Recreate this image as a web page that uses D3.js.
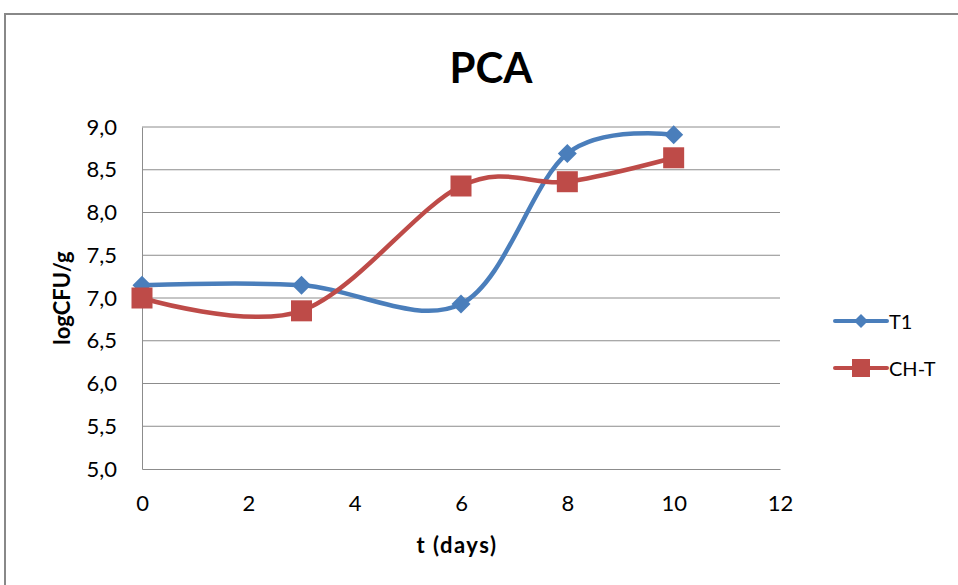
<!DOCTYPE html>
<html><head><meta charset="utf-8">
<script src="https://cdn.jsdelivr.net/npm/d3@7"></script>
<style>body{margin:0;background:#fff;} svg{display:block;}</style>
</head><body>
<svg id="c" width="958" height="585"></svg>
<script>
const days = [0, 3, 6, 8, 10];
const t1Values = [7.15, 7.15, 6.93, 8.69, 8.91];
const chtValues = [7.0, 6.85, 8.31, 8.36, 8.64];
const seriesNames = ["T1", "CH-T"];
const xTicks = [0, 2, 4, 6, 8, 10, 12];
const yTicks = [5.0, 5.5, 6.0, 6.5, 7.0, 7.5, 8.0, 8.5, 9.0];
const colors = ["#4a7ebb", "#be4b48"];

const svg = d3.select("#c");
const font = "Lato, 'Open Sans', sans-serif";
svg.append("rect").attr("x",5).attr("y",14).attr("width",1000).attr("height",700)
  .attr("fill","#fff").attr("stroke","#888").attr("stroke-width",2);

const x = d3.scaleLinear().domain([0,12]).range([142,780]);
const y = d3.scaleLinear().domain([5,9]).range([469,127]);

// grid
svg.append("g").selectAll("line").data(yTicks.slice(1)).join("line")
  .attr("x1",142).attr("x2",780).attr("y1",d=>y(d)).attr("y2",d=>y(d))
  .attr("stroke","#8c8c8c").attr("stroke-width",1);

// axes
const yAxis = d3.axisLeft(y).tickValues(yTicks).tickSize(0).tickPadding(25)
  .tickFormat(d=>d3.format(".1f")(d).replace(".",","));
const gy = svg.append("g").attr("transform","translate(142,0)").call(yAxis);
gy.select(".domain").attr("stroke","#8c8c8c");
gy.selectAll("text").attr("font-family",font).attr("font-size",22).attr("fill","#000");

const xAxis = d3.axisBottom(x).tickValues(xTicks).tickSize(0).tickPadding(26);
const gx = svg.append("g").attr("transform","translate(0,469)").call(xAxis);
gx.select(".domain").attr("stroke","#8c8c8c");
gx.selectAll("text").attr("font-family",font).attr("font-size",22).attr("fill","#000");

// title and labels
svg.append("text").attr("x",491).attr("y",83).attr("text-anchor","middle")
  .attr("font-family",font).attr("font-weight","bold").attr("font-size",42).text("PCA");
svg.append("text").attr("x",457).attr("y",553).attr("text-anchor","middle")
  .attr("font-family",font).attr("font-weight","bold").attr("font-size",22)
  .attr("letter-spacing",1.5).text("t (days)");
svg.append("text").attr("transform","translate(70,298) rotate(-90)").attr("text-anchor","middle")
  .attr("font-family",font).attr("font-weight","bold").attr("font-size",22).text("logCFU/g");

const line = d3.line().x(d=>x(d[0])).y(d=>y(d[1])).curve(d3.curveCatmullRom.alpha(0));
const series = [t1Values, chtValues];

function marker(g, i, cx, cy){
  if(i===0){
    g.append("path").attr("d",`M${cx},${cy-9.5}L${cx+9.5},${cy}L${cx},${cy+9.5}L${cx-9.5},${cy}Z`)
      .attr("fill",colors[0]);
  } else {
    g.append("rect").attr("x",cx-10.5).attr("y",cy-10.5).attr("width",21).attr("height",21)
      .attr("fill",colors[1]);
  }
}

series.forEach((vals,i)=>{
  const pts = days.map((d,k)=>[d,vals[k]]);
  svg.append("path").attr("d",line(pts)).attr("fill","none")
    .attr("stroke",colors[i]).attr("stroke-width",4.5).attr("stroke-linecap","round");
});
series.forEach((vals,i)=>{
  const g = svg.append("g");
  days.forEach((d,k)=>marker(g,i,x(d),y(vals[k])));
});

// legend
seriesNames.forEach((n,i)=>{
  const ly = 321 + i*47;
  const g = svg.append("g");
  g.append("line").attr("x1",835).attr("x2",887).attr("y1",ly).attr("y2",ly)
    .attr("stroke",colors[i]).attr("stroke-width",4).attr("stroke-linecap","round");
  if(i===0){
    g.append("path").attr("d",`M861,${ly-7}L868,${ly}L861,${ly+7}L854,${ly}Z`).attr("fill",colors[0]);
  } else {
    g.append("rect").attr("x",852).attr("y",ly-9).attr("width",18).attr("height",18).attr("fill",colors[1]);
  }
  g.append("text").attr("x",889).attr("y",ly+7.5).attr("font-family",font).attr("font-size",20).text(n);
});
</script>
</body></html>
